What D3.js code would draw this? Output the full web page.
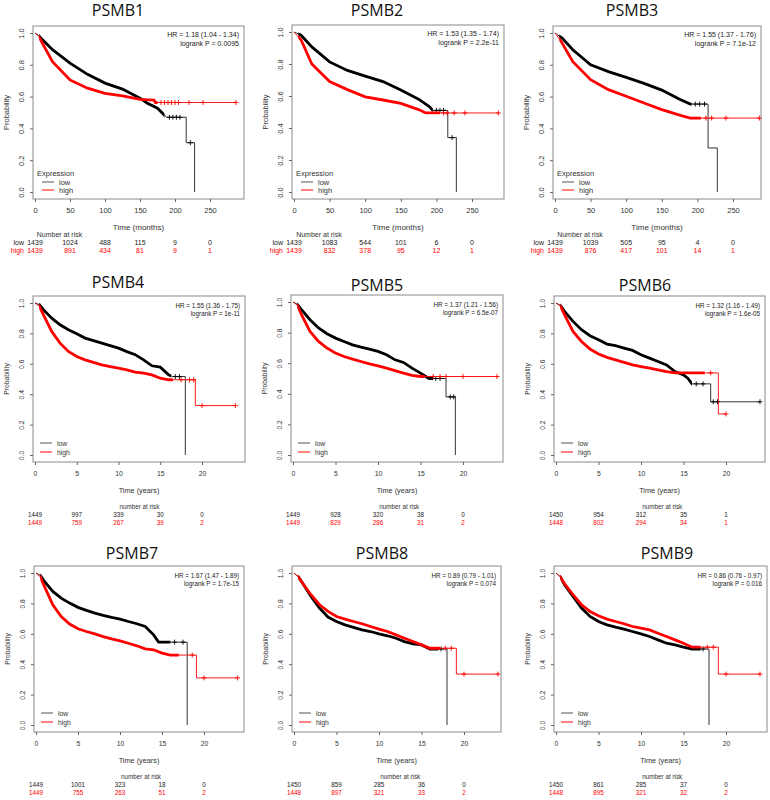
<!DOCTYPE html>
<html><head><meta charset="utf-8">
<script src="https://cdn.jsdelivr.net/npm/d3@7/dist/d3.min.js"></script>
<style>body{margin:0;background:#fff}</style>
</head><body><svg id="c" width="770" height="800"></svg>
<script>
// ---------- DATA ----------
const genes = ["PSMB1","PSMB2","PSMB3","PSMB4","PSMB5","PSMB6","PSMB7","PSMB8","PSMB9"];
const hrText = ["HR = 1.18 (1.04 - 1.34)","HR = 1.53 (1.35 - 1.74)","HR = 1.55 (1.37 - 1.76)",
  "HR = 1.55 (1.36 - 1.75)","HR = 1.37 (1.21 - 1.56)","HR = 1.32 (1.16 - 1.49)",
  "HR = 1.67 (1.47 - 1.89)","HR = 0.89 (0.79 - 1.01)","HR = 0.86 (0.76 - 0.97)"];
const pText = ["logrank P = 0.0095","logrank P = 2.2e-11","logrank P = 7.1e-12",
  "logrank P = 1e-11","logrank P = 6.5e-07","logrank P = 1.6e-05",
  "logrank P = 1.7e-15","logrank P = 0.074","logrank P = 0.016"];
const xTicksMonths = [0,50,100,150,200,250];
const xTicksYears = [0,5,10,15,20];
const yTicks = [0,0.2,0.4,0.6,0.8,1.0];

const lowCurves = [
  [[0,1],[5,0.985],[10,0.96],[25,0.895],[50,0.81],[75,0.74],[100,0.685],[125,0.647],[150,0.59],[160,0.56],[175,0.527],[188,0.47],[216,0.47],[216,0.31],[228,0.31],[228,0]],
  [[0,1],[10,0.98],[25,0.907],[50,0.813],[75,0.76],[100,0.724],[125,0.69],[150,0.637],[175,0.58],[190,0.534],[195,0.51],[216,0.51],[216,0.34],[228,0.34],[228,0]],
  [[0,1],[10,0.968],[25,0.895],[50,0.80],[75,0.757],[100,0.721],[125,0.683],[150,0.641],[175,0.583],[190,0.553],[215,0.553],[215,0.277],[228,0.277],[228,0]],
  [[0,1],[0.5,0.99],[1,0.956],[2,0.90],[3,0.857],[4,0.824],[5,0.798],[6,0.769],[7,0.752],[8,0.736],[9,0.72],[10,0.703],[11,0.68],[12,0.66],[13,0.626],[14,0.587],[15,0.578],[16,0.527],[16.5,0.516],[18,0.516],[18,0]],
  [[0,1],[0.5,0.985],[1,0.95],[2,0.884],[3,0.83],[4,0.793],[5,0.764],[6,0.742],[7,0.72],[8,0.705],[9,0.692],[10,0.677],[11,0.655],[12,0.622],[13,0.605],[14,0.568],[15,0.535],[16,0.5],[18,0.5],[18,0.38],[19.1,0.38],[19.1,0]],
  [[0,1],[0.5,0.985],[1,0.945],[2,0.879],[3,0.824],[4,0.785],[5,0.758],[6,0.73],[7,0.719],[8,0.703],[9,0.688],[10,0.659],[11,0.637],[12,0.615],[13,0.593],[14,0.549],[15,0.527],[15.5,0.505],[16,0.468],[18.2,0.468],[18.2,0.35],[24,0.35]],
  [[0,1],[0.5,0.985],[1,0.945],[2,0.879],[3,0.835],[4,0.802],[5,0.774],[6,0.754],[7,0.736],[8,0.721],[9,0.708],[10,0.697],[11,0.681],[12,0.666],[13,0.648],[14,0.593],[14.6,0.545],[18,0.545],[18,0]],
  [[0,1],[0.5,0.975],[1,0.934],[2,0.846],[3,0.769],[4,0.71],[5,0.681],[6,0.659],[7,0.642],[8,0.626],[9,0.615],[10,0.6],[11,0.587],[12,0.571],[13,0.549],[14,0.534],[15,0.527],[16,0.5],[18,0.5],[18,0]],
  [[0,1],[0.5,0.975],[1,0.923],[2,0.846],[3,0.769],[4,0.714],[5,0.681],[6,0.659],[7,0.644],[8,0.631],[9,0.615],[10,0.6],[11,0.582],[12,0.56],[13,0.538],[14,0.527],[15,0.512],[16,0.5],[18,0.5],[18,0]]
];
const highCurves = [
  [[0,1],[5,0.98],[10,0.94],[25,0.82],[50,0.705],[75,0.653],[100,0.62],[125,0.605],[150,0.583],[170,0.578],[172,0.563],[287,0.563]],
  [[0,1],[10,0.95],[25,0.80],[50,0.69],[75,0.64],[100,0.595],[125,0.575],[150,0.554],[175,0.515],[185,0.494],[287,0.494]],
  [[0,1],[10,0.937],[25,0.82],[50,0.706],[75,0.644],[100,0.602],[125,0.56],[150,0.518],[175,0.484],[190,0.465],[287,0.465]],
  [[0,1],[0.5,0.98],[1,0.923],[2,0.813],[3,0.736],[4,0.681],[5,0.648],[6,0.626],[7,0.609],[8,0.593],[9,0.582],[10,0.571],[11,0.56],[12,0.545],[13,0.538],[14,0.527],[15,0.505],[16,0.495],[19.2,0.495],[19.2,0.325],[24,0.325]],
  [[0,1],[0.5,0.98],[1,0.917],[2,0.808],[3,0.742],[4,0.699],[5,0.666],[6,0.644],[7,0.627],[8,0.611],[9,0.596],[10,0.583],[11,0.568],[12,0.552],[13,0.535],[14,0.52],[15,0.513],[24,0.513]],
  [[0,1],[0.5,0.98],[1,0.923],[2,0.813],[3,0.747],[4,0.697],[5,0.664],[6,0.642],[7,0.626],[8,0.609],[9,0.593],[10,0.582],[11,0.571],[12,0.56],[13,0.549],[14,0.54],[19.1,0.54],[19.1,0.27],[20,0.27]],
  [[0,1],[0.5,0.975],[1,0.912],[2,0.791],[3,0.714],[4,0.664],[5,0.633],[6,0.615],[7,0.6],[8,0.582],[9,0.567],[10,0.554],[11,0.538],[12,0.521],[13,0.501],[14,0.495],[15,0.473],[16,0.46],[19.1,0.46],[19.1,0.31],[24,0.31]],
  [[0,1],[0.5,0.975],[1,0.934],[2,0.857],[3,0.791],[4,0.747],[5,0.714],[6,0.697],[7,0.681],[8,0.666],[9,0.648],[10,0.631],[11,0.615],[12,0.593],[13,0.571],[14,0.549],[15,0.527],[16,0.505],[19.1,0.505],[19.1,0.335],[24,0.335]],
  [[0,1],[0.5,0.975],[1,0.93],[2,0.857],[3,0.791],[4,0.747],[5,0.719],[6,0.697],[7,0.681],[8,0.666],[9,0.648],[10,0.637],[11,0.626],[12,0.604],[13,0.582],[14,0.56],[15,0.538],[16,0.512],[19.1,0.512],[19.1,0.335],[24,0.335]]
];
// last time of dense censoring
const lowDenseEnd = [185,195,192,16.3,16.5,16,16,17,17];
const highDenseEnd = [175,205,205,16.5,15.5,17.5,17,17.2,17];
// sparse censor marks in the tails [time, prob]
const lowCensor = [
  [[192,0.47],[197,0.47],[202,0.47],[207,0.47],[222,0.31]],
  [[200,0.51],[205,0.51],[210,0.51],[222,0.34]],
  [[197,0.553],[203,0.553],[210,0.553]],
  [[16.8,0.516],[17.3,0.516]],
  [[16.8,0.5],[17.3,0.5],[18.5,0.38],[18.9,0.38]],
  [[16.5,0.468],[17.3,0.468],[18.5,0.35],[19,0.35],[24,0.35]],
  [[16.5,0.545],[17.5,0.545]],
  [[17.3,0.5]],
  [[17.3,0.5]]
];
const highCensor = [
  [[180,0.563],[185,0.563],[190,0.563],[195,0.563],[200,0.563],[205,0.563],[220,0.563],[240,0.563],[287,0.563]],
  [[210,0.494],[215,0.494],[225,0.494],[240,0.494],[287,0.494]],
  [[212,0.465],[220,0.465],[240,0.465],[287,0.465]],
  [[17.5,0.495],[18.5,0.495],[19,0.495],[20,0.325],[24,0.325]],
  [[16.5,0.513],[17.3,0.513],[18,0.513],[20,0.513],[24,0.513]],
  [[18.2,0.54],[20,0.27]],
  [[18.6,0.46],[20,0.31],[24,0.31]],
  [[17.8,0.505],[18.5,0.505],[20,0.335],[24,0.335]],
  [[17.8,0.512],[18.5,0.512],[20,0.335],[24,0.335]]
];
const lowRisk = [
  [1439,1024,488,115,9,0],[1439,1083,544,101,6,0],[1439,1039,505,95,4,0],
  [1449,997,339,30,0],[1449,928,320,38,0],[1450,954,312,35,1],
  [1449,1001,323,18,0],[1450,859,285,36,0],[1450,861,285,37,0]
];
const highRisk = [
  [1439,891,434,81,9,1],[1439,832,378,95,12,1],[1439,876,417,101,14,1],
  [1449,759,267,39,2],[1449,829,286,31,2],[1448,802,294,34,1],
  [1449,755,263,51,2],[1448,897,321,33,2],[1448,895,321,32,2]
];

// ---------- LAYOUT ----------
const layout = [
  {xa:35, xb:210, boxR:244, y1:33, y0:192, tx:118, ty:16},
  {xa:294, xb:472, boxR:504, y1:32, y0:192, tx:377, ty:16},
  {xa:555, xb:733, boxR:761, y1:33, y0:192, tx:632, ty:16},
  {xa:35, xb:202, boxR:245, y1:303, y0:455, tx:118, ty:288},
  {xa:293, xb:463, boxR:503, y1:302, y0:455, tx:377, ty:291},
  {xa:556, xb:726, boxR:765, y1:303, y0:455, tx:645, ty:291},
  {xa:36, xb:204, boxR:244, y1:573, y0:725, tx:132, ty:559},
  {xa:294, xb:464, boxR:501, y1:573, y0:725, tx:382, ty:559},
  {xa:556, xb:726, boxR:767, y1:573, y0:725, tx:667, ty:559}
];
const RED = "#ff0000", BLK = "#000000";
const RF = "'Liberation Sans', Arial, sans-serif";

const svg = d3.select("#c");
svg.append("rect").attr("width",770).attr("height",800).attr("fill","#fff");

genes.forEach((g, i) => {
  const L = layout[i];
  const months = i < 3;
  const ticksX = months ? xTicksMonths : xTicksYears;
  const x = d3.scaleLinear().domain([0, months ? 250 : 20]).range([L.xa, L.xb]);
  const y = d3.scaleLinear().domain([0, 1]).range([L.y0, L.y1]);
  const bl = L.xa - 2, bt = L.y1 - 7, bb = L.y0 + 7, br = L.boxR;
  const G = svg.append("g");
  const fs = months ? 7.5 : 6.8;

  // title
  G.append("text").attr("x", L.tx).attr("y", L.ty).attr("text-anchor","middle")
    .attr("font-family","'Open Sans', sans-serif").attr("font-size", 16).attr("fill","#111").text(g);

  // box
  G.append("rect").attr("x", bl).attr("y", bt).attr("width", br - bl).attr("height", bb - bt)
    .attr("fill","none").attr("stroke","#8a8a8a").attr("stroke-width",1);

  // y axis
  const ya = G.append("g").attr("transform", `translate(${bl},0)`)
    .call(d3.axisLeft(y).tickValues(yTicks).tickSize(3).tickFormat(d3.format(".1f")));
  ya.select(".domain").remove();
  ya.selectAll("line").attr("stroke","#666");
  ya.selectAll("text").attr("x",0).attr("dy",0).attr("text-anchor","middle")
    .attr("transform","translate(-9,0) rotate(-90)")
    .attr("font-family",RF).attr("font-size",fs).attr("fill","#333");
  G.append("text").attr("transform", `translate(${L.xa - 26},${(L.y0 + L.y1) / 2}) rotate(-90)`)
    .attr("text-anchor","middle").attr("font-family",RF).attr("font-size",fs).attr("fill","#333").text("Probability");

  // x axis
  const xa = G.append("g").attr("transform", `translate(0,${bb})`)
    .call(d3.axisBottom(x).tickValues(ticksX).tickSize(3).tickPadding(6).tickFormat(d3.format("d")));
  xa.select(".domain").remove();
  xa.selectAll("line").attr("stroke","#666");
  xa.selectAll("text").attr("font-family",RF).attr("font-size",fs).attr("fill","#333");
  G.append("text").attr("x", (bl + br) / 2).attr("y", L.y0 + 38)
    .attr("text-anchor","middle").attr("font-family",RF).attr("font-size",fs + 0.5).attr("fill","#333")
    .text(months ? "Time (months)" : "Time (years)");

  // curves
  const line = d3.line().x(d => x(d[0])).y(d => y(d[1]));
  const clipId = "clip" + i;
  const series = [
    {pts: lowCurves[i], col: BLK, dense: lowDenseEnd[i], cens: lowCensor[i], cid: clipId + "l"},
    {pts: highCurves[i], col: RED, dense: highDenseEnd[i], cens: highCensor[i], cid: clipId + "h"}
  ];
  const firstSpan = months ? 6 : 0.5;
  series.forEach(s => {
    G.append("clipPath").attr("id", s.cid).append("rect")
      .attr("x", x(firstSpan)).attr("y", bt).attr("width", x(s.dense) - x(firstSpan)).attr("height", bb - bt);
    G.append("path").attr("d", line(s.pts)).attr("fill","none").attr("stroke", s.col)
      .attr("stroke-width", 1).attr("opacity", s.col === BLK ? 0.8 : 0.9);
    G.append("path").attr("d", line(s.pts)).attr("fill","none").attr("stroke", s.col)
      .attr("stroke-width", 2.8).attr("clip-path", `url(#${s.cid})`);
    G.selectAll(null).data(s.cens).enter().append("path")
      .attr("d", d => `M${x(d[0]) - 2.5},${y(d[1])}h5M${x(d[0])},${y(d[1]) - 2.5}v5`)
      .attr("stroke", s.col).attr("stroke-width", 0.9).attr("fill","none");
  });

  // HR text
  G.append("text").attr("x", br - 5).attr("y", L.y1 + (months ? 4 : 5)).attr("text-anchor","end")
    .attr("font-family",RF).attr("font-size", months ? 7 : 6.3).attr("fill","#222").text(hrText[i]);
  G.append("text").attr("x", br - 5).attr("y", L.y1 + 13).attr("text-anchor","end")
    .attr("font-family",RF).attr("font-size", months ? 7 : 6.3).attr("fill","#222").text(pText[i]);

  // legend
  if (months) {
    G.append("text").attr("x", L.xa + 2).attr("y", L.y0 - 16).attr("font-family",RF)
      .attr("font-size", 7.5).attr("fill","#333").text("Expression");
  }
  const legY = months ? [L.y0 - 10, L.y0 - 2] : [L.y0 - 12, L.y0 - 3];
  const legX0 = months ? L.xa + 7 : L.xa + 5;
  [["low", "#555"], ["high", RED]].forEach((e, k) => {
    G.append("line").attr("x1", legX0).attr("x2", legX0 + 12).attr("y1", legY[k]).attr("y2", legY[k])
      .attr("stroke", e[1]).attr("stroke-width", 1);
    G.append("text").attr("x", legX0 + 17).attr("y", legY[k] + 2.5).attr("font-family",RF)
      .attr("font-size", fs).attr("fill","#333").text(e[0]);
  });

  // number at risk
  const riskFs = months ? 7 : 6.3;
  if (months) {
    G.append("text").attr("x", x(35)).attr("y", L.y0 + 44.5).attr("text-anchor","middle")
      .attr("font-family",RF).attr("font-size", riskFs).attr("fill","#333").text("Number at risk");
    G.append("text").attr("x", L.xa - 11).attr("y", L.y0 + 52.5).attr("text-anchor","end")
      .attr("font-family",RF).attr("font-size", riskFs).attr("fill","#222").text("low");
    G.append("text").attr("x", L.xa - 11).attr("y", L.y0 + 60.5).attr("text-anchor","end")
      .attr("font-family",RF).attr("font-size", riskFs).attr("fill",RED).text("high");
  } else {
    G.append("text").attr("x", x(12.5)).attr("y", L.y0 + 54).attr("text-anchor","middle")
      .attr("font-family",RF).attr("font-size", riskFs).attr("fill","#333").text("number at risk");
  }
  const rowY = months ? [L.y0 + 52.5, L.y0 + 60.5] : [L.y0 + 62, L.y0 + 70];
  [[lowRisk[i], "#222"], [highRisk[i], RED]].forEach((r, k) => {
    G.selectAll(null).data(r[0]).enter().append("text")
      .attr("x", (d, j) => x(ticksX[j])).attr("y", rowY[k]).attr("text-anchor","middle")
      .attr("font-family",RF).attr("font-size", riskFs).attr("fill", r[1]).text(d => d);
  });
});
</script></body></html>
